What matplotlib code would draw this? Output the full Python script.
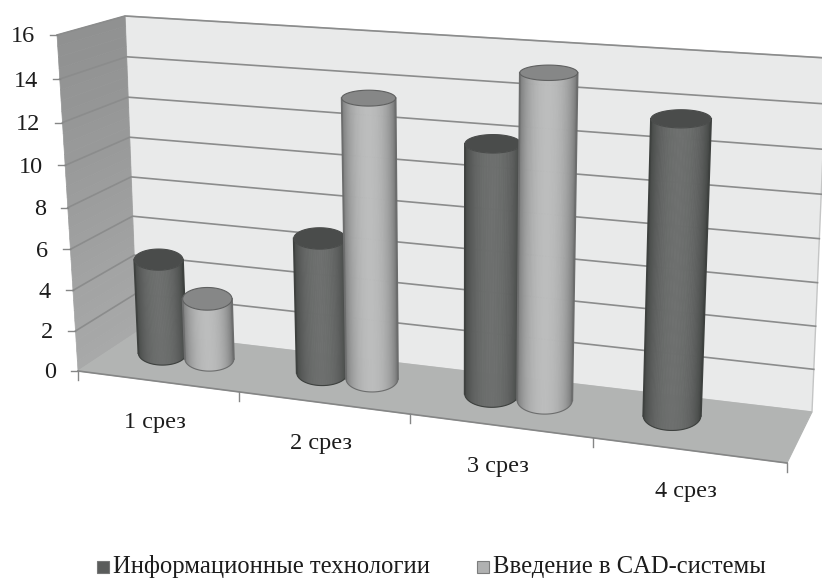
import numpy as np
import matplotlib
matplotlib.use("Agg")
import matplotlib.pyplot as plt
from matplotlib.collections import PolyCollection
from matplotlib.colors import to_rgb
from matplotlib.patches import Polygon, Rectangle

categories = ["1 срез", "2 срез", "3 срез", "4 срез"]
series_names = ["Информационные технологии", "Введение в CAD-системы"]
info_tech = [4.73, 6.58, 11.72, 13.46]
cad_systems = [3.03, 13.37, 15.07, np.nan]
y_ticks = [0, 2, 4, 6, 8, 10, 12, 14, 16]

Y_MAX = 16.0
N_CAT = 4.0

# corners of the chart box in pixels: cat 0 bottom, cat max bottom, cat max top, cat 0 top
FRONT = [(78, 371), (787, 463), (809, 85), (57, 35)]
BACK = [(137, 332), (812, 412), (827, 58), (125, 16)]


def homography(corners):
    src = [(0, 0), (1, 0), (1, 1), (0, 1)]
    a = []
    b = []
    for (u, v), (x, y) in zip(src, corners):
        a.append([u, v, 1, 0, 0, 0, -u * x, -v * x])
        a.append([0, 0, 0, u, v, 1, -u * y, -v * y])
        b += [x, y]
    h = np.linalg.solve(np.array(a, float), np.array(b, float))
    return np.append(h, 1).reshape(3, 3)


H_FRONT = homography(FRONT)
H_BACK = homography(BACK)


def proj(cat, val, depth):
    """category units, value units, depth 0..1 -> pixel position"""
    cat = np.atleast_1d(np.asarray(cat, float))
    val = np.broadcast_to(val, cat.shape)
    depth = np.broadcast_to(depth, cat.shape)
    p = np.vstack([cat / N_CAT, val / Y_MAX, np.ones_like(cat)])
    f = H_FRONT @ p
    b = H_BACK @ p
    f = f[:2] / f[2]
    b = b[:2] / b[2]
    return (f * (1 - depth) + b * depth).T


def ring(cx, value):
    # horizontal ellipse of a cylinder end: centre and two half axes in pixels
    rx, rd = 0.155, 0.3
    d = 0.61
    x0, y0 = proj(cx, value, d)[0]
    a = (proj(cx + rx, value, d)[0][0] - proj(cx - rx, value, d)[0][0]) / 2
    b = abs(proj(cx, value, d + rd)[0][1] - proj(cx, value, d - rd)[0][1]) / 2
    return x0, y0, a, b


def cylinder(ax, cx, value, edge, mid, top, rim, z):
    xb, yb, ab, bb = ring(cx, 0)
    xt, yt, at, bt = ring(cx, value)
    ang = np.linspace(np.pi, 2 * np.pi, 61)
    lo = np.column_stack([xb + ab * np.cos(ang), yb - bb * np.sin(ang)])
    hi = np.column_stack([xt + at * np.cos(ang), yt - bt * np.sin(ang)])
    polys = []
    cols = []
    e = np.array(to_rgb(edge))
    m = np.array(to_rgb(mid))
    for i in range(60):
        k = np.sin((ang[i] + ang[i + 1]) / 2 - np.pi) ** 1.3
        c = tuple(e * (1 - k) + m * k)
        polys.append([lo[i], lo[i + 1], hi[i + 1], hi[i]])
        cols.append(c)
    # the strips would poke out at the sides, so trim them to the barrel outline
    outline = Polygon(np.vstack([lo, hi[::-1]]), closed=True, fc="none", ec="none")
    ax.add_patch(outline)
    strips = PolyCollection(polys, facecolors=cols, edgecolors=cols, linewidths=0.6, zorder=z)
    ax.add_collection(strips)
    strips.set_clip_path(outline)
    # clean side lines hide the steps left by the clipping
    ax.plot([lo[0, 0], hi[0, 0]], [lo[0, 1], hi[0, 1]], color=edge, lw=1.3, zorder=z + 0.05)
    ax.plot([lo[-1, 0], hi[-1, 0]], [lo[-1, 1], hi[-1, 1]], color=edge, lw=1.3, zorder=z + 0.05)
    ax.plot(lo[:, 0], lo[:, 1], color=edge, lw=0.8, zorder=z + 0.05)
    full = np.linspace(0, 2 * np.pi, 81)
    head = np.column_stack([xt + at * np.cos(full), yt + bt * np.sin(full)])
    ax.add_patch(Polygon(head, closed=True, fc=top, ec=rim, lw=0.8, zorder=z + 0.1))


plt.rcParams["font.family"] = ["Liberation Serif", "DejaVu Serif"]
fig = plt.figure(figsize=(8.22, 5.78), dpi=100)
ax = fig.add_axes([0, 0, 1, 1])
ax.set_xlim(0, 822)
ax.set_ylim(578, 0)
ax.axis("off")

# walls and floor
wall_back = [proj(0, 0, 1)[0], proj(N_CAT, 0, 1)[0], proj(N_CAT, Y_MAX, 1)[0], proj(0, Y_MAX, 1)[0]]
floor = [proj(0, 0, 0)[0], proj(N_CAT, 0, 0)[0], proj(N_CAT, 0, 1)[0], proj(0, 0, 1)[0]]
ax.add_patch(Polygon(wall_back, fc="#e9eaea", ec="#c4c5c5", lw=1, zorder=1))

# left wall gets lighter towards the floor
steps = np.linspace(0, Y_MAX, 33)
polys = []
cols = []
for lo, hi in zip(steps[:-1], steps[1:]):
    polys.append([proj(0, lo, 0)[0], proj(0, lo, 1)[0], proj(0, hi, 1)[0], proj(0, hi, 0)[0]])
    t = lo / Y_MAX
    cols.append(tuple(np.array(to_rgb("#a8a9a9")) * (1 - t) + np.array(to_rgb("#8f9090")) * t))
ax.add_collection(PolyCollection(polys, facecolors=cols, edgecolors=cols, linewidths=0.5, zorder=1))
ax.add_patch(Polygon(floor, fc="#b2b4b3", ec="#b2b4b3", lw=0.8, zorder=1.5))

# gridlines run along the left wall and then across the back wall
for v in y_ticks[1:]:
    pts = np.vstack([proj(0, v, 0), proj(0, v, 1), proj(N_CAT, v, 1)])
    ax.plot(pts[:, 0], pts[:, 1], color="#8b8c8c", lw=1.2, zorder=2, solid_joinstyle="miter")
edge = np.vstack([proj(0, 0, 0), proj(N_CAT, 0, 0)])
ax.plot(edge[:, 0], edge[:, 1], color="#858686", lw=1.2, zorder=2)

# value axis ticks and labels
for v in y_ticks:
    x, y = proj(0, v, 0)[0]
    ax.plot([x - 7, x], [y, y], color="#858686", lw=1, zorder=2)
    ax.text(x - 22, y + 2, str(v), ha="right", va="center", fontsize=17.5, color="#1c1c1c")

# category ticks and labels
for i in range(int(N_CAT) + 1):
    x, y = proj(i, 0, 0)[0]
    ax.plot([x, x], [y, y + 9], color="#858686", lw=1, zorder=2)
for i, name in enumerate(categories):
    x, y = proj(i + 0.5, 0, 0)[0]
    ax.text(x - 2, y + 41, name, ha="center", va="center", fontsize=17.5, color="#1c1c1c")

# bars, dark series first in every group
z = 3
for i in range(len(categories)):
    cylinder(ax, i + 0.315, info_tech[i], "#3e413f", "#6d6f6e", "#4a4c4b", "#4a4c4b", z)
    z += 1
    if not np.isnan(cad_systems[i]):
        cylinder(ax, i + 0.615, cad_systems[i], "#6c6d6d", "#bcbdbd", "#868787", "#5f6060", z)
        z += 1

# legend
ax.add_patch(Rectangle((96.5, 560.5), 12, 12, fc="#5a5c5b", ec="#767777", lw=0.8))
ax.text(113, 567, series_names[0], ha="left", va="center", fontsize=17.7, color="#1c1c1c")
ax.add_patch(Rectangle((476.5, 560.5), 12, 12, fc="#b0b1b1", ec="#7c7d7d", lw=0.8))
ax.text(493, 567, series_names[1], ha="left", va="center", fontsize=17.7, color="#1c1c1c")

fig.savefig("out.png", dpi=100)
